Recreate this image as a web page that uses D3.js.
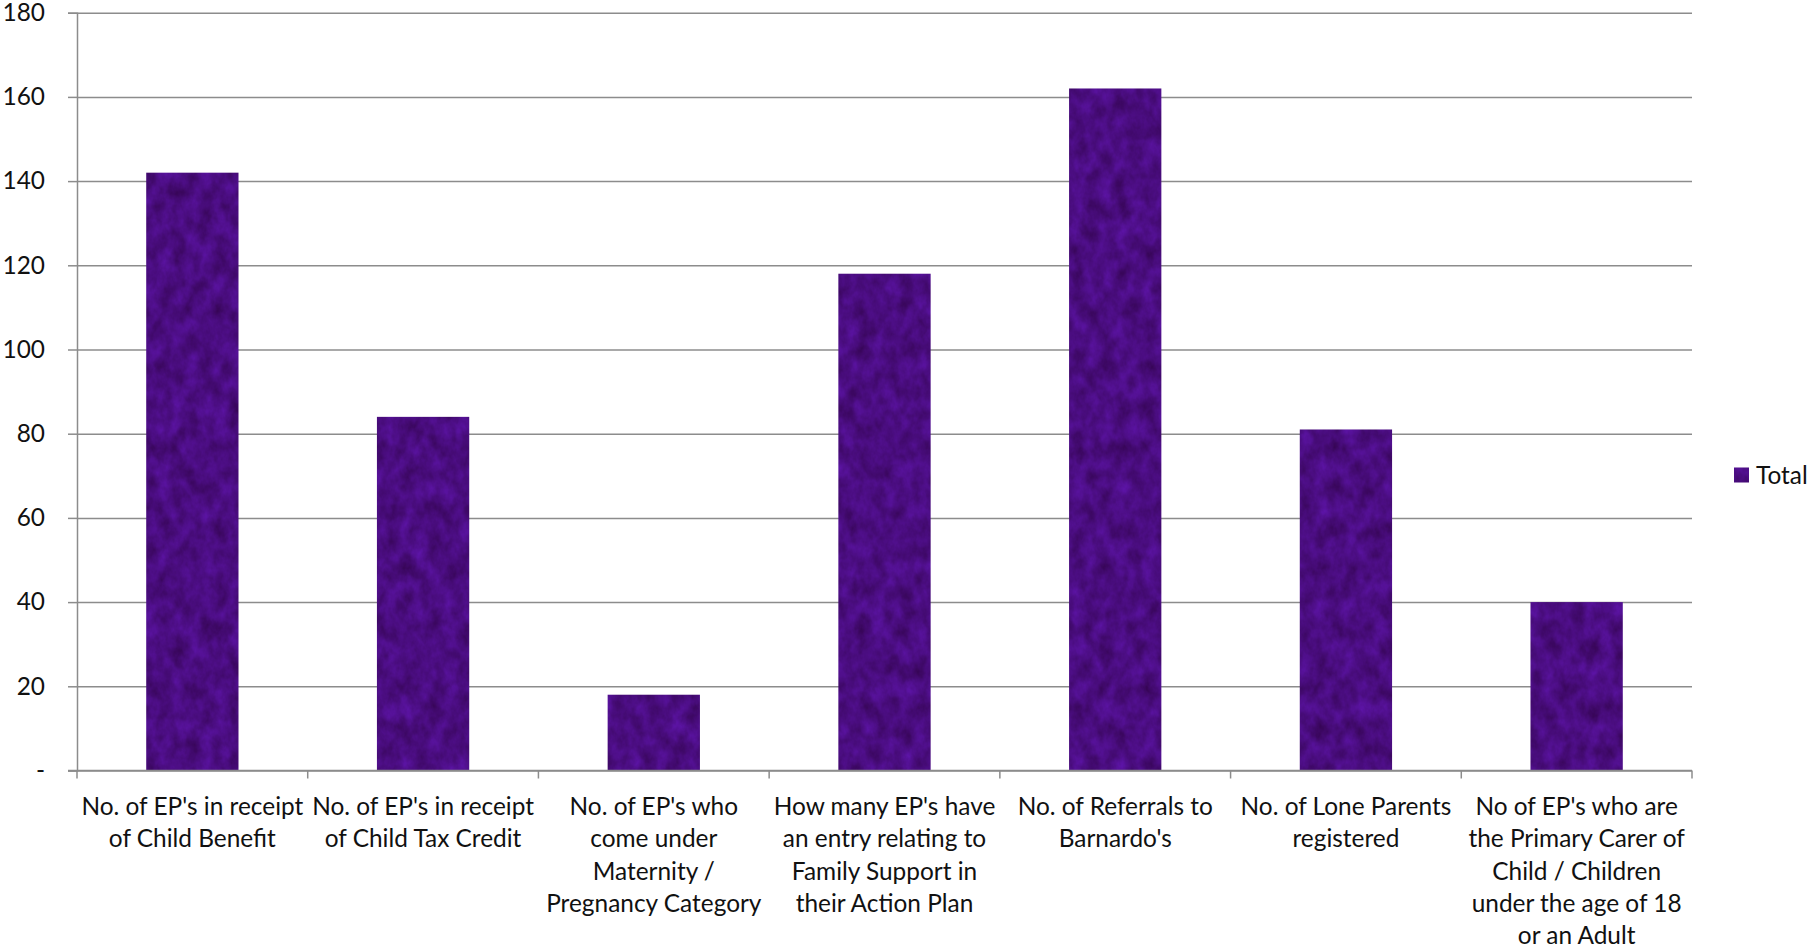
<!DOCTYPE html>
<html>
<head>
<meta charset="utf-8">
<script src="https://cdn.jsdelivr.net/npm/d3@7/dist/d3.min.js"></script>
<style>
  html, body { margin: 0; padding: 0; background: #fff; }
  svg { display: block; }
  text { font-family: Lato, "Open Sans", sans-serif; fill: #111; }
</style>
</head>
<body>
<svg id="chart" width="1812" height="946"></svg>
<script>
// ---- data ----
const categories = [
  "No. of EP's in receipt\nof Child Benefit",
  "No. of EP's in receipt\nof Child Tax Credit",
  "No. of EP's who\ncome under\nMaternity /\nPregnancy Category",
  "How many EP's have\nan entry relating to\nFamily Support in\ntheir Action Plan",
  "No. of Referrals to\nBarnardo's",
  "No. of Lone Parents\nregistered",
  "No of EP's who are\nthe Primary Carer of\nChild / Children\nunder the age of 18\nor an Adult"
];
const totals = [142, 84, 18, 118, 162, 81, 40];
const yTicks = [0, 20, 40, 60, 80, 100, 120, 140, 160, 180];
const seriesName = "Total";

(function () {
// ---- layout ----
const svg = d3.select("#chart");
const mLeft = 77, mRight = 1692, mTop = 12.7, mBottom = 770.5;
const gridColor = "#8c8c8c";

// fit font size to reference text width (Calibri substitute)
const probe = svg.append("text").attr("font-size", 100).text("No. of EP's in receipt");
const w100 = probe.node().getComputedTextLength();
probe.remove();
const fs = Math.min(27, 100 * 222 / w100);

const x = d3.scaleBand().domain(categories).range([mLeft, mRight])
  .paddingInner(0.6).paddingOuter(0.3);
const y = d3.scaleLinear().domain([0, 180]).range([mBottom, mTop]);

// texture filter for bars
const defs = svg.append("defs");
const f = defs.append("filter").attr("id", "tex")
  .attr("x", 0).attr("y", 0).attr("width", 1).attr("height", 1)
  .attr("color-interpolation-filters", "sRGB");
f.append("feTurbulence").attr("type", "fractalNoise")
  .attr("baseFrequency", "0.07 0.05").attr("numOctaves", 4).attr("seed", 7).attr("result", "n");
f.append("feColorMatrix").attr("in", "n").attr("type", "matrix")
  .attr("values", [
    0.18, 0, 0, 0, 0.20,
    0.07, 0, 0, 0, 0.015,
    0.38, 0, 0, 0, 0.31,
    0, 0, 0, 0, 1
  ].join(" ")).attr("result", "c");
f.append("feComposite").attr("in", "c").attr("in2", "SourceGraphic").attr("operator", "in");

// gridlines
const gy = svg.append("g").attr("transform", `translate(${mLeft},0)`)
  .call(d3.axisLeft(y).tickValues(yTicks).tickSize(-(mRight - mLeft)).tickFormat(""));
gy.select(".domain").remove();
gy.selectAll("line").attr("stroke", gridColor).attr("stroke-width", 1.5);

// y axis
const ya = svg.append("g").attr("transform", `translate(${mLeft},0)`)
  .call(d3.axisLeft(y).tickValues(yTicks).tickSize(9).tickPadding(23)
    .tickFormat(d => d === 0 ? "-" : d3.format("d")(d)));
ya.select(".domain").attr("stroke", gridColor).attr("stroke-width", 1.5);
ya.selectAll("line").attr("stroke", gridColor).attr("stroke-width", 1.5);
ya.selectAll("text").attr("font-size", fs).attr("fill", "#111")
  .style("font-family", "Lato, 'Open Sans', sans-serif");

// bars
svg.append("g").selectAll("rect").data(totals).join("rect")
  .attr("x", (d, i) => x(categories[i]))
  .attr("y", d => y(d))
  .attr("width", x.bandwidth())
  .attr("height", d => y(0) - y(d))
  .attr("fill", "#4a0e80")
  .attr("filter", "url(#tex)");

// x axis line + ticks at category boundaries
const step = x.step();
const bounds = d3.range(categories.length + 1).map(i => mLeft + i * step);
const xa = svg.append("g");
xa.append("line").attr("x1", mLeft - 9).attr("x2", mRight).attr("y1", mBottom).attr("y2", mBottom)
  .attr("stroke", gridColor).attr("stroke-width", 1.5);
xa.selectAll("line.t").data(bounds).join("line").attr("class", "t")
  .attr("x1", d => d).attr("x2", d => d).attr("y1", mBottom).attr("y2", mBottom + 8)
  .attr("stroke", gridColor).attr("stroke-width", 1.5);

// category labels
const lineH = 32.4;
const lbl = svg.append("g").selectAll("text").data(categories).join("text")
  .attr("text-anchor", "middle").attr("font-size", fs)
  .attr("transform", d => `translate(${x(d) + x.bandwidth() / 2},806)`);
lbl.selectAll("tspan").data(d => d.split("\n")).join("tspan")
  .attr("x", 0).attr("y", (d, i) => i * lineH).attr("dy", "0.36em").text(d => d);

// legend
const lg = svg.append("g").attr("transform", "translate(1734,467.5)");
lg.append("rect").attr("width", 15).attr("height", 15).attr("fill", "#4a0e80").attr("filter", "url(#tex)");
lg.append("text").attr("x", 22).attr("y", 7.5).attr("dy", "0.36em").attr("font-size", fs).text(seriesName);
})();
</script>
</body>
</html>
